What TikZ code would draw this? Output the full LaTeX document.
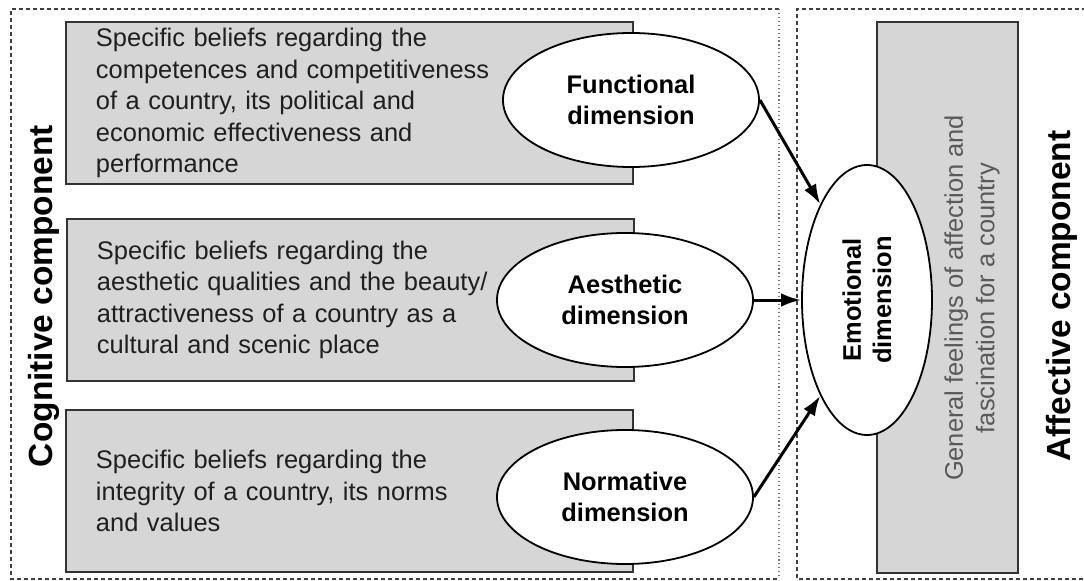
\documentclass[tikz,border=0pt]{standalone}
\usepackage{fontspec}
\setmainfont{Liberation Sans}
\usetikzlibrary{arrows.meta,shapes.geometric}

\begin{document}
\begin{tikzpicture}[x=0.25mm, y=-0.25mm,
        frame/.style={draw=black!75, line width=0.28mm, dash pattern=on 1mm off 0.75mm},
        belief/.style={draw=black!80, fill=black!16, line width=0.6mm, minimum height=40.5mm,
            text width=126.75mm, inner xsep=7.5mm, align=left, text=black!88,
            font=\fontsize{18.1}{22.4}\selectfont},
        dimen/.style={ellipse, draw, fill=white, line width=0.45mm, inner sep=0pt,
            minimum width=64mm, minimum height=33.5mm, align=center,
            font=\fontsize{18.1}{21.5}\selectfont\bfseries},
        heading/.style={rotate=90, font=\fontsize{23.8}{28}\selectfont\bfseries},
        link/.style={line width=0.75mm, -{Latex[length=5mm, width=3.4mm]}}]
    \useasboundingbox (0,0) rectangle (1084,581);
    \clip (0,0) rectangle (1084,581);
    \draw[frame] (779,9) -- (11,9) -- (11,579) -- (779,579);
    \draw[black!55, line width=0.28mm, dotted] (779,9) -- (779,579);
    \draw[frame] (1100,9) -- (797,9) -- (797,579) -- (1100,579);
    \node[heading] (cog) at (44,296) {Cognitive component};
    \node[heading] (aff) at (1062,296) {Affective component};
    \node[belief] (bfunc) at (349.5,103) {Specific beliefs regarding the\\competences and competitiveness\\of a country, its political and\\economic effectiveness and\\performance};
    \node[belief] (baest) at (350.5,300) {Specific beliefs regarding the\\aesthetic qualities and the beauty/\\attractiveness of a country as a\\cultural and scenic place};
    \node[belief] (bnorm) at (349.5,491) {Specific beliefs regarding the\\integrity of a country, its norms\\and values};
    \node[draw=black!80, fill=black!16, line width=0.6mm, minimum width=35.25mm,
        minimum height=137.75mm] (feel) at (947.5,297.5) {};
    \node[rotate=90, align=center, text=black!65, font=\fontsize{18.1}{22.4}\selectfont]
        (feeltext) at (972,298) {General feelings of affection and\\fascination for a country};
    \node[dimen] (func) at (631,100) {Functional\\dimension};
    \node[dimen] (aest) at (625,300) {Aesthetic\\dimension};
    \node[dimen] (norm) at (625,497) {Normative\\dimension};
    \node[dimen, rotate=90, minimum width=67.5mm, minimum height=32.5mm] (emo) at (867,300) {Emotional\\dimension};
    \draw[link] (func.east) -- (emo.26);
    \draw[link] (aest.east) -- (emo.90);
    \draw[link] (norm.east) -- (emo.154);
\end{tikzpicture}
\end{document}
